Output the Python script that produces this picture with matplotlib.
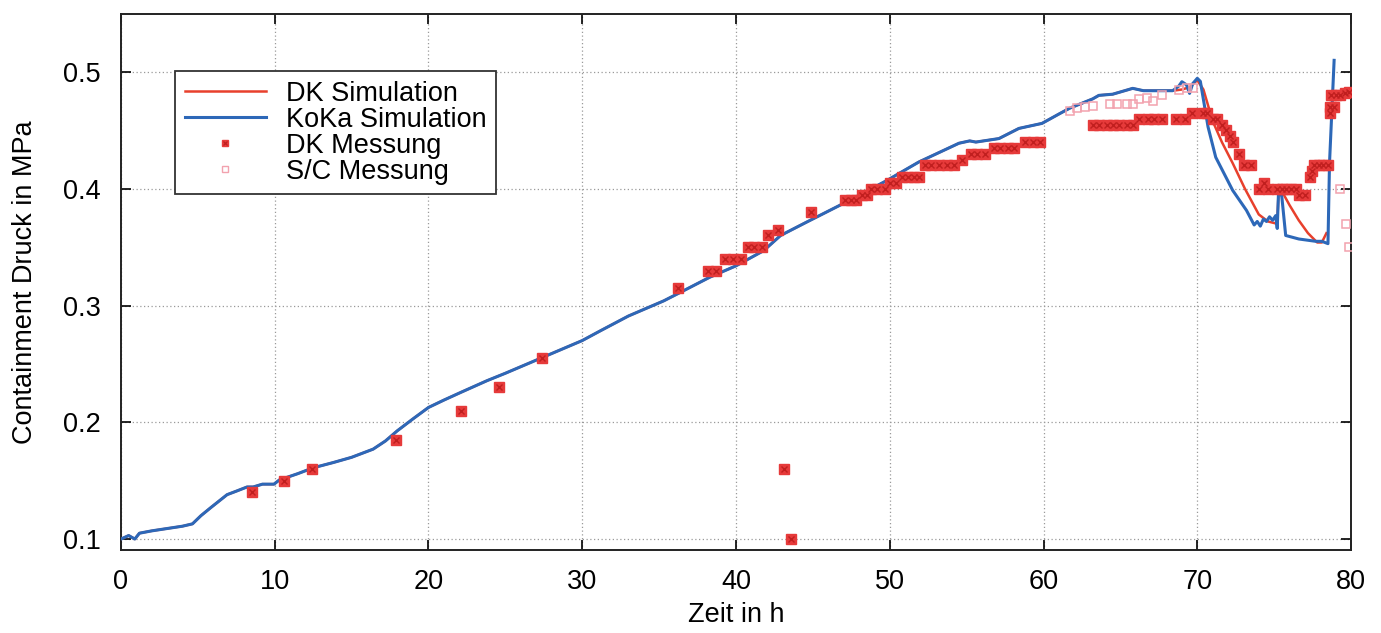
import matplotlib
matplotlib.use("Agg")
import matplotlib.pyplot as plt
from matplotlib.lines import Line2D
from matplotlib.legend_handler import HandlerTuple

plt.rcParams['font.family'] = ['Liberation Sans', 'DejaVu Sans']

# ---- data ----
common_t = [0, 0.5, 0.9, 1.2, 2, 3, 4, 4.65, 5.2, 5.85, 6.9, 7.5, 8.2, 8.6, 9.2, 9.95,
            10.3, 11.5, 12.5, 13.8, 15, 16.4, 17.2, 17.97, 19, 20, 21, 22.1, 23.8, 25,
            27.5, 30, 31.2, 33, 35.3, 36.4, 38.3, 40, 41.8, 42.9, 44.6, 47, 49.8, 51.9,
            54.5, 55.2, 55.6, 57.1, 58.4, 59.9, 61, 61.7, 63.2, 63.6, 64.5, 65.8, 66.5,
            67.3, 68.4]
common_p = [0.1, 0.103, 0.1, 0.105, 0.107, 0.109, 0.111, 0.113, 0.12, 0.127, 0.138, 0.141,
            0.1446, 0.1446, 0.147, 0.147, 0.1506, 0.156, 0.161, 0.1655, 0.17, 0.177, 0.184,
            0.1927, 0.203, 0.2127, 0.219, 0.2256, 0.2356, 0.242, 0.256, 0.27, 0.2785, 0.291,
            0.304, 0.3114, 0.3243, 0.334, 0.347, 0.36, 0.3715, 0.3875, 0.407, 0.423, 0.439,
            0.441, 0.44, 0.443, 0.4517, 0.456, 0.464, 0.469, 0.477, 0.48, 0.481, 0.486,
            0.484, 0.484, 0.484]

dk_sim_t = common_t + [69.0, 69.5, 70.0, 70.4, 71.0, 71.6, 72.3, 73.1, 74.0, 74.6, 75.2,
                       75.3, 75.5, 76.0, 76.6, 77.2, 77.8, 78.1, 78.4]
dk_sim_p = common_p + [0.485, 0.487, 0.493, 0.485, 0.458, 0.44, 0.422, 0.40, 0.378, 0.372,
                       0.370, 0.402, 0.398, 0.386, 0.373, 0.362, 0.354, 0.354, 0.362]

koka_sim_t = common_t + [68.8, 69.0, 69.3, 69.5, 69.7, 70.0, 70.2, 70.7, 71.2, 72.3, 73.2,
                         73.7, 73.9, 74.1, 74.3, 74.5, 74.7, 74.9, 75.1, 75.2, 75.3, 75.5,
                         75.75, 76.6, 77.7, 78.1, 78.5, 78.6, 78.9]
koka_sim_p = common_p + [0.488, 0.4917, 0.489, 0.4817, 0.49, 0.4946, 0.492, 0.453, 0.427,
                         0.3987, 0.3815, 0.369, 0.372, 0.368, 0.374, 0.372, 0.376, 0.373,
                         0.377, 0.366, 0.403, 0.393, 0.36, 0.357, 0.355, 0.355, 0.353,
                         0.422, 0.51]

dk_mess_t = [8.5, 10.6, 12.4, 17.9, 22.1, 24.6, 27.4, 36.25, 38.2, 38.7, 39.3, 39.8, 40.3,
             40.8, 41.2, 41.7, 42.1, 42.7, 43.15, 43.6, 44.85, 47.1, 47.5, 47.8, 48.2, 48.5,
             48.8, 49.2, 49.7, 50.0, 50.4, 50.8, 51.2, 51.6, 51.9, 52.3, 52.7, 53.2, 53.7,
             54.2, 54.7, 55.3, 55.7, 56.2, 56.8, 57.2, 57.7, 58.1, 58.8, 59.3, 59.8,
             63.2, 63.6, 64.1, 64.5, 64.9, 65.4, 65.8, 66.2, 66.8, 67.2, 67.7, 68.6, 69.2,
             69.65, 70.4, 70.65, 71.0, 71.3, 71.6, 71.9, 72.1, 72.3, 72.7, 73.05, 73.5,
             74.0, 74.35, 74.6, 75.2, 75.5, 75.8, 76.1, 76.4, 76.6, 77.0, 77.3, 77.45,
             77.6, 77.9, 78.2, 78.5, 78.6, 78.65, 78.9, 78.7, 79.0, 79.3, 79.6, 79.9]
dk_mess_p = [0.14, 0.15, 0.16, 0.185, 0.21, 0.23, 0.255, 0.315, 0.33, 0.33, 0.34, 0.34, 0.34,
             0.35, 0.35, 0.35, 0.36, 0.365, 0.16, 0.10, 0.38, 0.39, 0.39, 0.39, 0.395, 0.395,
             0.40, 0.40, 0.40, 0.405, 0.405, 0.41, 0.41, 0.41, 0.41, 0.42, 0.42, 0.42, 0.42,
             0.42, 0.425, 0.43, 0.43, 0.43, 0.435, 0.435, 0.435, 0.435, 0.44, 0.44, 0.44,
             0.455, 0.455, 0.455, 0.455, 0.455, 0.455, 0.455, 0.46, 0.46, 0.46, 0.46, 0.46,
             0.46, 0.465, 0.465, 0.465, 0.46, 0.46, 0.455, 0.45, 0.445, 0.44, 0.43, 0.42,
             0.42, 0.40, 0.405, 0.40, 0.40, 0.40, 0.40, 0.40, 0.40, 0.395, 0.395, 0.41,
             0.415, 0.42, 0.42, 0.42, 0.42, 0.465, 0.47, 0.47, 0.48, 0.48, 0.48, 0.482, 0.483]

sc_mess_t = [61.7, 62.2, 62.7, 63.2, 64.3, 64.8, 65.4, 65.8, 66.2, 66.7, 67.1, 67.7, 68.8,
             69.3, 69.7, 79.3, 79.65, 79.9]
sc_mess_p = [0.467, 0.469, 0.47, 0.471, 0.473, 0.473, 0.473, 0.473, 0.477, 0.478, 0.475,
             0.48, 0.485, 0.486, 0.486, 0.40, 0.37, 0.35]

x_ticks = [0, 10, 20, 30, 40, 50, 60, 70, 80]
y_ticks = [0.1, 0.2, 0.3, 0.4, 0.5]

# ---- plot ----
RED = '#e8402c'
BLUE = '#2d68b8'
MRED = '#e63a3a'
XRED = '#c01f1f'
PINK = '#f2a2ae'
FS = 19.5

fig = plt.figure(figsize=(13.81, 6.33), dpi=100)
ax = fig.add_axes([0.0876, 0.1311, 0.8907, 0.8468])

l_dk, = ax.plot(dk_sim_t, dk_sim_p, color=RED, lw=1.8, zorder=3)
l_ko, = ax.plot(koka_sim_t, koka_sim_p, color=BLUE, lw=2.2, zorder=4)
m_sq, = ax.plot(dk_mess_t, dk_mess_p, ls='none', marker='s', ms=6.5,
                mfc=MRED, mec=MRED, zorder=5)
m_x, = ax.plot(dk_mess_t, dk_mess_p, ls='none', marker='x', ms=4.5, mew=1.0,
               color=XRED, zorder=6)
m_sc, = ax.plot(sc_mess_t, sc_mess_p, ls='none', marker='s', ms=6, mfc='none',
                mec=PINK, mew=1.1, zorder=5)

ax.set_xlim(0, 80)
ax.set_ylim(0.0906, 0.5497)
ax.set_xticks(x_ticks)
ax.set_yticks(y_ticks)
ax.set_xticklabels([str(v) for v in x_ticks])
ax.set_yticklabels([f"{v:.1f}" for v in y_ticks])
ax.tick_params(direction='in', length=7, width=1.2, top=True, right=True,
               labelsize=FS, colors='black')
ax.tick_params(axis='x', pad=14)
ax.tick_params(axis='y', pad=14.5)
for s in ax.spines.values():
    s.set_linewidth(1.4)
    s.set_color('#222222')
ax.grid(True, color='#9a9a9a', linestyle=(0, (1, 2)), linewidth=0.9)
ax.set_axisbelow(True)

ax.set_xlabel('Zeit in h', fontsize=FS, labelpad=5)
ax.set_ylabel('Containment Druck in MPa', fontsize=FS, labelpad=18)

# legend handles
h_dk_m_sq = Line2D([], [], ls='none', marker='s', ms=5, mfc=MRED, mec=MRED)
h_dk_m_x = Line2D([], [], ls='none', marker='x', ms=3.5, mew=0.9, color=XRED)
h_sc = Line2D([], [], ls='none', marker='s', ms=4.5, mfc='none', mec=PINK, mew=1.0)
leg = ax.legend([l_dk, l_ko, (h_dk_m_sq, h_dk_m_x), h_sc],
                ['DK Simulation', 'KoKa Simulation', 'DK Messung', 'S/C Messung'],
                handler_map={tuple: HandlerTuple(ndivide=1)},
                loc='upper left', bbox_to_anchor=(0.044, 0.893), borderaxespad=0,
                fontsize=FS, frameon=True, fancybox=False, framealpha=1,
                edgecolor='#333333', labelspacing=0.0, handlelength=3.0,
                handletextpad=0.75, borderpad=0.35, numpoints=1)
leg.get_frame().set_linewidth(1.3)
leg.set_zorder(10)

fig.savefig('out.png', dpi=100)
